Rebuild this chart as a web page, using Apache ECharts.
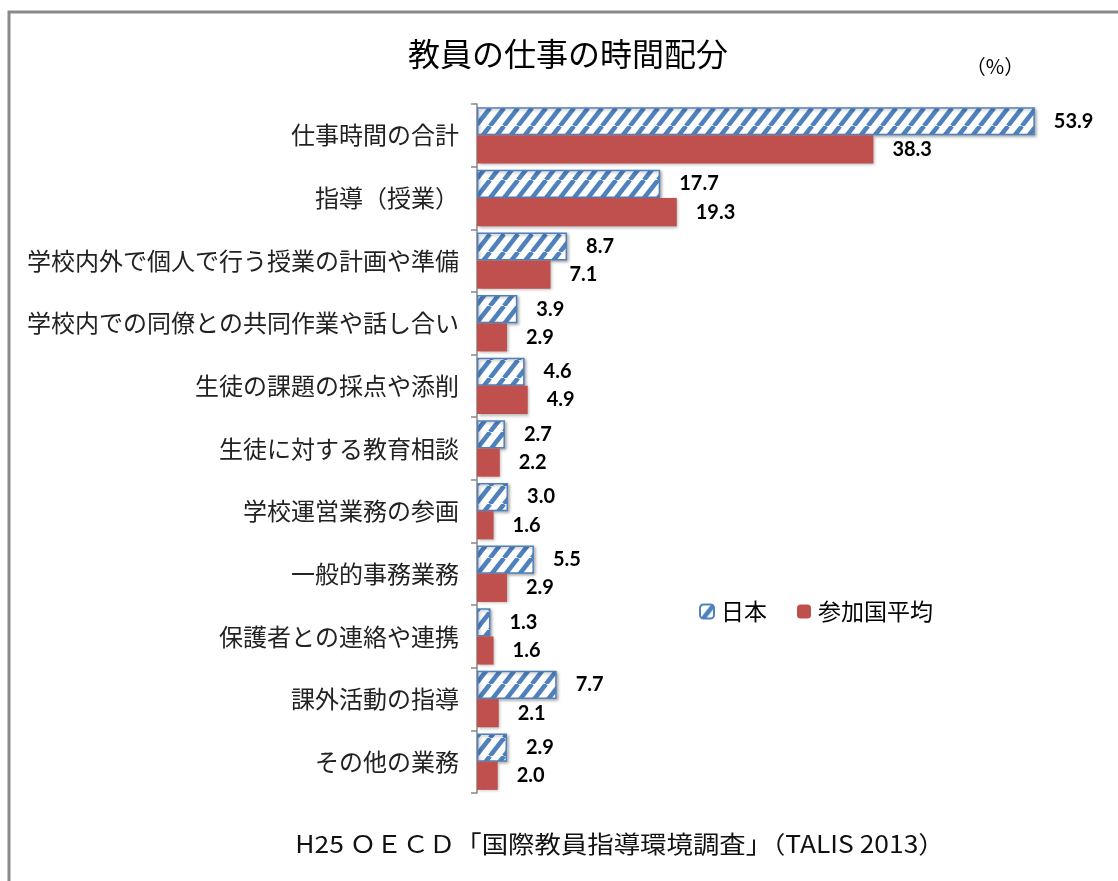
<!DOCTYPE html>
<html>
<head>
<meta charset="utf-8">
<title>教員の仕事の時間配分</title>
<script src="https://cdn.jsdelivr.net/npm/echarts@6/dist/echarts.min.js"></script>
<style>
  html, body { margin: 0; padding: 0; background: #fff; }
  #chart { width: 1118px; height: 881px; }
</style>
</head>
<body>
<div id="chart"></div>
<script>
// Activity categories, top to bottom
const categories = [
  '仕事時間の合計',
  '指導（授業）',
  '学校内外で個人で行う授業の計画や準備',
  '学校内での同僚との共同作業や話し合い',
  '生徒の課題の採点や添削',
  '生徒に対する教育相談',
  '学校運営業務の参画',
  '一般的事務業務',
  '保護者との連絡や連携',
  '課外活動の指導',
  'その他の業務'
];
// Weekly hours, Japan
const japan = [53.9, 17.7, 8.7, 3.9, 4.6, 2.7, 3.0, 5.5, 1.3, 7.7, 2.9];
// Weekly hours, participating-country average
const average = [38.3, 19.3, 7.1, 2.9, 4.9, 2.2, 1.6, 2.9, 1.6, 2.1, 2.0];
const seriesNames = ['日本', '参加国平均'];

const JP_FONT = '"Noto Sans CJK JP", "Noto Sans", sans-serif';
const BLUE = '#4F81BD';
const RED = '#C0504D';

// Diagonal hatch tile for the Japan bars
function makeHatch() {
  const w = 14, h = 18;
  const c = document.createElement('canvas');
  c.width = w; c.height = h;
  const ctx = c.getContext('2d');
  ctx.fillStyle = '#ffffff';
  ctx.fillRect(0, 0, w, h);
  ctx.strokeStyle = BLUE;
  ctx.lineWidth = 4.5;
  for (let k = -1; k <= 1; k++) {
    ctx.beginPath();
    ctx.moveTo(k * w, h);
    ctx.lineTo(k * w + w, 0);
    ctx.stroke();
  }
  return c;
}

const chart = echarts.init(document.getElementById('chart'));

const valueLabel = {
  show: true,
  position: 'right',
  distance: 19,
  color: '#000',
  fontFamily: 'Lato, "Liberation Sans", sans-serif',
  fontWeight: 'bold',
  fontSize: 20,
  formatter: p => p.value.toFixed(1)
};

chart.setOption({
  animation: false,
  backgroundColor: '#fff',
  graphic: [
    {
      type: 'rect',
      shape: { x: 9, y: 12, width: 1300, height: 1000 },
      style: { fill: 'none', stroke: '#8a8a8a', lineWidth: 3 },
      silent: true
    },
    {
      type: 'text',
      x: 568, y: 54,
      style: {
        text: '教員の仕事の時間配分',
        fontFamily: JP_FONT, fontSize: 32, fill: '#000',
        align: 'center', verticalAlign: 'middle'
      }
    },
    {
      type: 'text',
      x: 995, y: 66,
      style: {
        text: '（%）',
        fontFamily: JP_FONT, fontSize: 20, fill: '#000',
        align: 'center', verticalAlign: 'middle'
      }
    },
    {
      type: 'text',
      x: 620, y: 844,
      scaleX: 1.1,
      style: {
        text: 'H25 ＯＥＣＤ「国際教員指導環境調査」（TALIS 2013）',
        fontFamily: JP_FONT, fontSize: 24, fill: '#111',
        align: 'center', verticalAlign: 'middle'
      }
    }
  ],
  legend: {
    left: 694, top: 595,
    itemWidth: 14, itemHeight: 14,
    itemGap: 30,
    textStyle: { fontFamily: JP_FONT, fontSize: 23, color: '#000', padding: [0, 0, 0, 2] },
    data: seriesNames
  },
  grid: { left: 477, top: 104, width: 621, height: 689, containLabel: false },
  xAxis: {
    type: 'value', min: 0, max: 60, interval: 10,
    show: false
  },
  yAxis: {
    type: 'category',
    inverse: true,
    data: categories,
    axisLine: { lineStyle: { color: '#888', width: 1.5 } },
    axisTick: { show: true, length: 6, lineStyle: { color: '#888', width: 1.5 } },
    axisLabel: { fontFamily: JP_FONT, fontSize: 24, color: '#222', margin: 18 }
  },
  series: [
    {
      name: seriesNames[0],
      type: 'bar',
      data: japan,
      barGap: '0%',
      barCategoryGap: '10%',
      itemStyle: {
        color: { image: makeHatch(), repeat: 'repeat' },
        borderColor: BLUE, borderWidth: 1.5,
        shadowColor: 'rgba(0,0,0,0.3)', shadowBlur: 3, shadowOffsetX: 1.5, shadowOffsetY: 1.5
      },
      label: valueLabel
    },
    {
      name: seriesNames[1],
      type: 'bar',
      data: average,
      barGap: '0%',
      barCategoryGap: '10%',
      itemStyle: {
        color: RED,
        shadowColor: 'rgba(0,0,0,0.3)', shadowBlur: 3, shadowOffsetX: 1.5, shadowOffsetY: 1.5
      },
      label: valueLabel
    }
  ]
});
</script>
</body>
</html>
